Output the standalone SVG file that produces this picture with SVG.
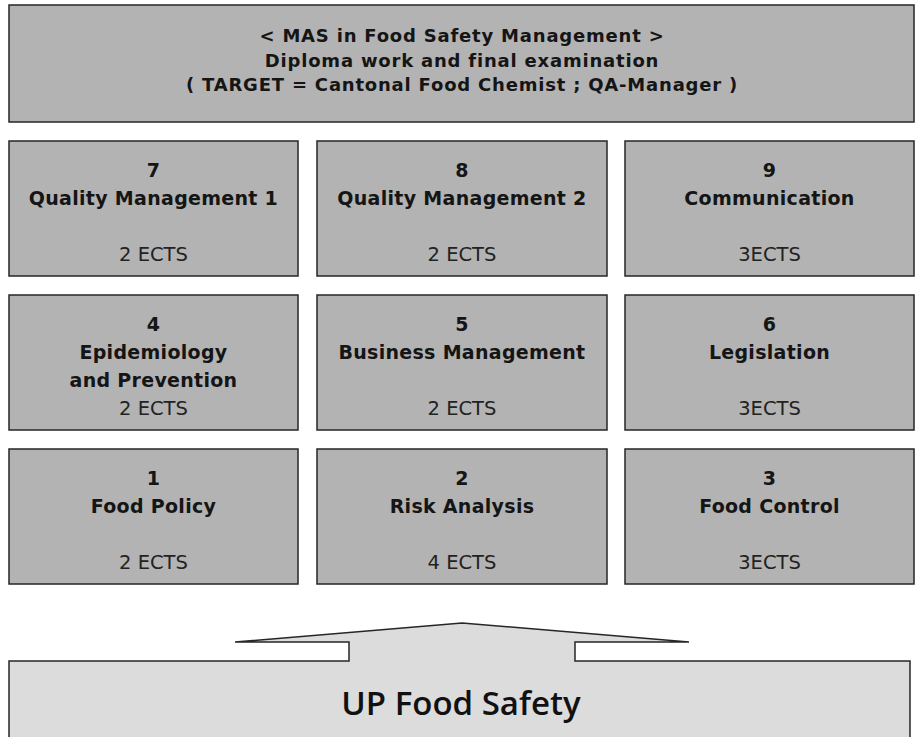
<svg xmlns="http://www.w3.org/2000/svg" width="915" height="737" viewBox="0 0 915 737">
  <style>
    .box { fill: #b3b3b3; stroke: #262626; stroke-width: 1.5; }
    .base { fill: #dcdcdc; stroke: #262626; stroke-width: 1.5; stroke-linejoin: miter; }
    .t { font-family: "DejaVu Sans", "Liberation Sans", sans-serif; font-weight: bold; font-size: 19px; fill: #151515; text-anchor: middle; letter-spacing: 0.3px; }
    .title { font-family: "DejaVu Sans", "Liberation Sans", sans-serif; font-weight: bold; font-size: 18px; fill: #151515; text-anchor: middle; letter-spacing: 0.8px; }
    .ects { font-family: "DejaVu Sans", "Liberation Sans", sans-serif; font-size: 19.5px; fill: #222; text-anchor: middle; }
    .big { font-family: "Open Sans", "DejaVu Sans", sans-serif; font-weight: 600; font-size: 33px; fill: #111; text-anchor: middle; }
  </style>

  <!-- programme header -->
  <g id="mas">
    <rect class="box" x="9" y="5" width="905" height="117"/>
    <text class="title" x="462" y="42">&lt; MAS in Food Safety Management &gt;</text>
    <text class="title" x="462" y="66.5">Diploma work and final examination</text>
    <text class="title" x="462" y="91">( TARGET = Cantonal Food Chemist ; QA-Manager )</text>
  </g>

  <!-- row 3 modules -->
  <g id="m7">
    <rect class="box" x="9" y="141" width="289" height="135"/>
    <text class="t" x="153.5" y="177">7</text>
    <text class="t" x="153.5" y="205">Quality Management 1</text>
    <text class="ects" x="153.5" y="260.5">2 ECTS</text>
  </g>
  <g id="m8">
    <rect class="box" x="317" y="141" width="290" height="135"/>
    <text class="t" x="462" y="177">8</text>
    <text class="t" x="462" y="205">Quality Management 2</text>
    <text class="ects" x="462" y="260.5">2 ECTS</text>
  </g>
  <g id="m9">
    <rect class="box" x="625" y="141" width="289" height="135"/>
    <text class="t" x="769.5" y="177">9</text>
    <text class="t" x="769.5" y="205">Communication</text>
    <text class="ects" x="769.5" y="260.5">3ECTS</text>
  </g>

  <!-- row 2 modules -->
  <g id="m4">
    <rect class="box" x="9" y="295" width="289" height="135"/>
    <text class="t" x="153.5" y="331">4</text>
    <text class="t" x="153.5" y="359">Epidemiology</text>
    <text class="t" x="153.5" y="387">and Prevention</text>
    <text class="ects" x="153.5" y="414.5">2 ECTS</text>
  </g>
  <g id="m5">
    <rect class="box" x="317" y="295" width="290" height="135"/>
    <text class="t" x="462" y="331">5</text>
    <text class="t" x="462" y="359">Business Management</text>
    <text class="ects" x="462" y="414.5">2 ECTS</text>
  </g>
  <g id="m6">
    <rect class="box" x="625" y="295" width="289" height="135"/>
    <text class="t" x="769.5" y="331">6</text>
    <text class="t" x="769.5" y="359">Legislation</text>
    <text class="ects" x="769.5" y="414.5">3ECTS</text>
  </g>

  <!-- row 1 modules -->
  <g id="m1">
    <rect class="box" x="9" y="449" width="289" height="135"/>
    <text class="t" x="153.5" y="485">1</text>
    <text class="t" x="153.5" y="513">Food Policy</text>
    <text class="ects" x="153.5" y="568.5">2 ECTS</text>
  </g>
  <g id="m2">
    <rect class="box" x="317" y="449" width="290" height="135"/>
    <text class="t" x="462" y="485">2</text>
    <text class="t" x="462" y="513">Risk Analysis</text>
    <text class="ects" x="462" y="568.5">4 ECTS</text>
  </g>
  <g id="m3">
    <rect class="box" x="625" y="449" width="289" height="135"/>
    <text class="t" x="769.5" y="485">3</text>
    <text class="t" x="769.5" y="513">Food Control</text>
    <text class="ects" x="769.5" y="568.5">3ECTS</text>
  </g>

  <!-- foundation block with upward arrow roof -->
  <g id="up">
    <path class="base" d="M9,745 V661 H349 V642 H235 L462,623 L689,642 H575 V661 H910 V745 Z"/>
    <text class="big" x="461" y="715">UP Food Safety</text>
  </g>
</svg>
